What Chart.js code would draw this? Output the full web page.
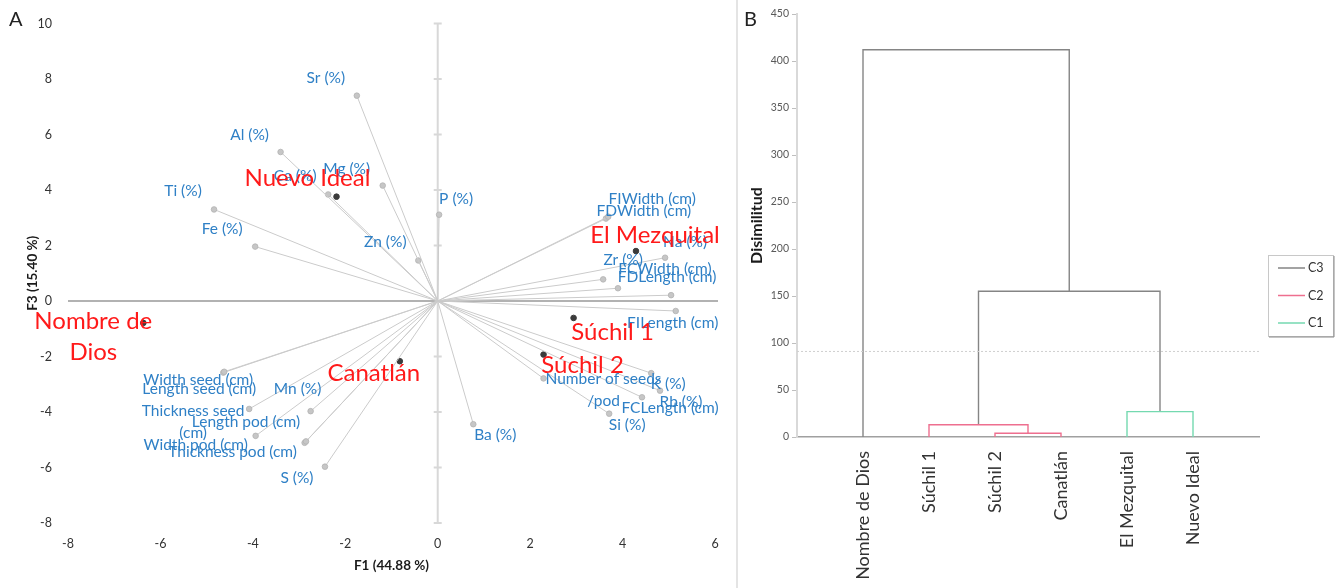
<!DOCTYPE html>
<html>
<head>
<meta charset="utf-8">
<script src="https://cdn.jsdelivr.net/npm/chart.js@4.4.1/dist/chart.umd.min.js"></script>
<style>
  html, body { margin: 0; padding: 0; background: #fff; }
  body { width: 1339px; height: 588px; position: relative; overflow: hidden; font-family: Lato, sans-serif; }
  #boxA { position: absolute; left: 0; top: 0; width: 736px; height: 588px; }
  #boxB { position: absolute; left: 739px; top: 0; width: 600px; height: 588px; }
  #sep { position: absolute; left: 736px; top: 0; width: 2px; height: 588px; background: #e4e4e4; }
  .tag { position: absolute; font-size: 20px; color: #222; }
</style>
</head>
<body>
<div id="boxA"><canvas id="biplot"></canvas></div>
<div id="sep"></div>
<div id="boxB"><canvas id="dendro"></canvas></div>
<div class="tag" style="left:9px;top:6px">A</div>
<div class="tag" style="left:744px;top:6px">B</div>
<script>
// PCA biplot, F1 x F3 : variable loadings (scaled)
const varNames = [
  'Sr (%)', 'Al (%)', 'Ca (%)', 'Mg (%)', 'Ti (%)', 'Fe (%)', 'Zn (%)', 'P (%)',
  'FIWidth (cm)', 'FDWidth (cm)', 'Na (%)', 'Zr (%)', 'FCWidth (cm)', 'FDLength (cm)', 'FILength (cm)',
  'K (%)', 'Rb (%)', 'FCLength (cm)', 'Si (%)', 'Ba (%)', 'Number of seeds\n/pod',
  'Width seed (cm)', 'Length seed (cm)', 'Thickness seed\n(cm)', 'Mn (%)',
  'Length pod (cm)', 'Width pod (cm)', 'Thickness pod (cm)', 'S (%)'
];
const varF1 = [
  -1.75, -3.40, -2.37, -1.19, -4.84, -3.95, -0.42, 0.03,
  3.69, 3.64, 4.92, 3.58, 3.90, 5.05, 5.15,
  4.62, 4.81, 4.42, 3.71, 0.77, 2.29,
  -4.62, -4.64, -4.08, -2.75,
  -2.85, -3.94, -2.88, -2.44
];
const varF3 = [
  7.40, 5.37, 3.84, 4.16, 3.30, 1.96, 1.46, 3.11,
  3.04, 2.97, 1.56, 0.78, 0.46, 0.21, -0.36,
  -2.60, -3.23, -3.47, -4.06, -4.44, -2.79,
  -2.55, -2.58, -3.89, -3.97,
  -5.06, -4.86, -5.11, -5.97
];

// observations (localities)
const obsNames = ['Nombre de\nDios', 'Canatlán', 'Nuevo Ideal', 'El Mezquital', 'Súchil 1', 'Súchil 2'];
const obsF1 = [-6.37, -0.82, -2.19, 4.29, 2.94, 2.29];
const obsF3 = [-0.79, -2.17, 3.76, 1.80, -0.61, -1.93];

// dendrogram (AHC)
const leafNames = ['Nombre de Dios', 'Súchil 1', 'Súchil 2', 'Canatlán', 'El Mezquital', 'Nuevo Ideal'];
// merge k creates node 6+k; ids below 6 are leaves
const mergeLeft = [2, 1, 4, 7, 0];
const mergeRight = [3, 6, 5, 8, 9];
const mergeHeight = [4, 13, 27, 155, 412];
const mergeClass = ['C2', 'C2', 'C1', 'C3', 'C3'];
const cutLevel = 91;
const classNames = ['C3', 'C2', 'C1'];

// label placement around each point (px)
const varLabelOffset = [
  [-31, -18], [-31, -17], [-33, -18], [-36, -17], [-31, -18], [-33, -18], [-33, -18], [17, -16],
  [44, -18], [38, -8], [20, -16], [20, -19], [47, -19], [-4, -18], [-3, 12],
  [17, 11], [21, 11], [28, 11], [18, 11], [22, 11], [60, 1],
  [-26, 8], [-24, 16], [-56, 2], [-13, -22],
  [-60, -19], [-60, 9], [-72, 9], [-28, 11]
];
const obsLabelOffset = [[-50, -2], [-26, 12], [-29, -18], [19, -16], [39, 14], [39, 11]];

const classColor = { C3: '#858585', C2: '#ee6f8f', C1: '#74d9b0' };
const blue = '#2f80c6';

Chart.defaults.font.family = 'Lato, sans-serif';
Chart.defaults.animation = false;

// ---------- panel A ----------
const vectorSets = varNames.map((n, i) => ({
  label: n,
  data: [{ x: 0, y: 0 }, { x: varF1[i], y: varF3[i] }],
  showLine: true,
  borderColor: '#cbcbcb',
  borderWidth: 1,
  pointRadius: [0, 2.8],
  pointBackgroundColor: '#c6c6c6',
  pointBorderColor: '#b3b3b3',
  pointBorderWidth: 0.8
}));

const obsSet = {
  label: 'obs',
  data: obsF1.map((v, i) => ({ x: v, y: obsF3[i] })),
  pointRadius: 2.8,
  pointBackgroundColor: '#3b3b3b',
  pointBorderColor: '#3b3b3b'
};

const centerAxes = {
  id: 'centerAxes',
  beforeDatasetsDraw(chart) {
    const { ctx, scales: { x, y } } = chart;
    const x0 = x.getPixelForValue(0), y0 = y.getPixelForValue(0);
    ctx.save();
    ctx.strokeStyle = '#d8d8d8';
    ctx.lineWidth = 2;
    ctx.beginPath();
    ctx.moveTo(x0, y.top);
    ctx.lineTo(x0, y.bottom);
    y.ticks.forEach(t => {
      const py = y.getPixelForValue(t.value);
      ctx.moveTo(x0 - 4, py);
      ctx.lineTo(x0 + 4, py);
    });
    ctx.stroke();
    ctx.strokeStyle = '#999';
    ctx.lineWidth = 1.5;
    ctx.beginPath();
    ctx.moveTo(x.left, y0);
    ctx.lineTo(x.right + 3, y0);
    ctx.stroke();
    ctx.restore();
  }
};

const pointLabels = {
  id: 'pointLabels',
  afterDatasetsDraw(chart) {
    const { ctx, scales: { x, y } } = chart;
    ctx.save();
    ctx.textAlign = 'center';
    ctx.textBaseline = 'middle';
    ctx.font = '15.5px Lato';
    ctx.fillStyle = blue;
    varNames.forEach((n, i) => {
      const px = x.getPixelForValue(varF1[i]) + varLabelOffset[i][0];
      const py = y.getPixelForValue(varF3[i]) + varLabelOffset[i][1];
      n.split('\n').forEach((line, k) => ctx.fillText(line, px, py + k * 22));
    });
    ctx.font = '24px Lato';
    ctx.fillStyle = '#ff1a1a';
    obsNames.forEach((n, i) => {
      const px = x.getPixelForValue(obsF1[i]) + obsLabelOffset[i][0];
      const py = y.getPixelForValue(obsF3[i]) + obsLabelOffset[i][1];
      n.split('\n').forEach((line, k) => ctx.fillText(line, px, py + k * 31));
    });
    ctx.restore();
  }
};

new Chart(document.getElementById('biplot'), {
  type: 'scatter',
  data: { datasets: [...vectorSets, obsSet] },
  plugins: [centerAxes, pointLabels],
  options: {
    responsive: true,
    maintainAspectRatio: false,
    layout: { padding: { top: 14, right: 21, left: 0, bottom: 0 } },
    plugins: { legend: { display: false }, tooltip: { enabled: false } },
    elements: { line: { tension: 0 } },
    scales: {
      x: {
        min: -8, max: 6,
        ticks: { stepSize: 2, padding: 13, color: '#333', font: { size: 12.5 } },
        grid: { display: false, drawTicks: false },
        border: { display: false },
        title: { display: true, text: 'F1 (44.88 %)', color: '#1a1a1a', font: { size: 13.5, weight: 'bold' }, padding: { bottom: 14 } },
        afterFit: s => { s.height = 65; }
      },
      y: {
        min: -8, max: 10,
        ticks: { stepSize: 2, padding: 16, color: '#333', font: { size: 12.5 } },
        grid: { display: false, drawTicks: false },
        border: { display: false },
        title: { display: true, text: 'F3 (15.40 %)', color: '#1a1a1a', font: { size: 13.5, weight: 'bold' }, padding: { top: 25 } },
        afterFit: s => { s.width = 68; }
      }
    }
  }
});

// ---------- panel B ----------
const nodeX = leafNames.map((n, i) => i + 1);
const nodeH = leafNames.map(() => 0);
const linkSets = mergeLeft.map((l, k) => {
  const r = mergeRight[k], h = mergeHeight[k];
  nodeX.push((nodeX[l] + nodeX[r]) / 2);
  nodeH.push(h);
  return {
    label: mergeClass[k],
    data: [
      { x: nodeX[l], y: nodeH[l] }, { x: nodeX[l], y: h },
      { x: nodeX[r], y: h }, { x: nodeX[r], y: nodeH[r] }
    ],
    showLine: true,
    borderColor: classColor[mergeClass[k]],
    borderWidth: 1.4,
    pointRadius: 0
  };
});

const cutSet = {
  label: 'cut',
  data: [{ x: 0, y: cutLevel }, { x: leafNames.length + 1, y: cutLevel }],
  showLine: true,
  borderColor: '#cfcfcf',
  borderWidth: 1,
  borderDash: [2, 2],
  pointRadius: 0
};

const classLegend = {
  id: 'classLegend',
  afterDraw(chart) {
    const { ctx, chartArea } = chart;
    const left = chartArea.right + 9, top = 255, w = 65, h = 81;
    ctx.save();
    ctx.fillStyle = '#fff';
    ctx.fillRect(left, top, w, h);
    ctx.strokeStyle = '#c8c8c8';
    ctx.lineWidth = 1;
    ctx.strokeRect(left + 0.5, top + 0.5, w, h);
    ctx.strokeStyle = '#8a8a8a';
    ctx.beginPath();
    ctx.moveTo(left + w + 1, top + 1);
    ctx.lineTo(left + w + 1, top + h + 1);
    ctx.lineTo(left + 1, top + h + 1);
    ctx.stroke();
    ctx.font = '12.5px Lato';
    ctx.textBaseline = 'middle';
    classNames.forEach((c, i) => {
      const yy = top + 13 + i * 27.5;
      ctx.strokeStyle = classColor[c];
      ctx.lineWidth = 1.5;
      ctx.beginPath();
      ctx.moveTo(left + 10, yy);
      ctx.lineTo(left + 37, yy);
      ctx.stroke();
      ctx.fillStyle = '#333';
      ctx.fillText(c, left + 40, yy);
    });
    ctx.restore();
  }
};

new Chart(document.getElementById('dendro'), {
  type: 'scatter',
  data: { datasets: [cutSet, ...linkSets] },
  plugins: [classLegend],
  options: {
    responsive: true,
    maintainAspectRatio: false,
    layout: { padding: { top: 14, right: 80, left: 0, bottom: 0 } },
    plugins: { legend: { display: false }, tooltip: { enabled: false } },
    elements: { line: { tension: 0 } },
    scales: {
      x: {
        min: 0, max: leafNames.length + 1,
        ticks: {
          stepSize: 1, autoSkip: false, minRotation: 90, maxRotation: 90, padding: 14,
          color: '#333', font: { size: 18 },
          callback: v => leafNames[v - 1] || ''
        },
        grid: { display: false, drawTicks: false },
        border: { display: true, color: '#a0a0a0', width: 1.5 },
        afterFit: s => { s.height = 151; }
      },
      y: {
        min: 0, max: 450,
        ticks: { stepSize: 50, padding: 3, color: '#595959', font: { size: 10.5 } },
        grid: { drawOnChartArea: false, drawTicks: true, tickLength: 5, color: '#bfbfbf' },
        border: { display: true, color: '#d9d9d9', width: 2 },
        title: { display: true, text: 'Disimilitud', color: '#1a1a1a', font: { size: 16, weight: 'bold' }, padding: { top: 8 } },
        afterFit: s => { s.width = 58; }
      }
    }
  }
});
</script>
</body>
</html>
